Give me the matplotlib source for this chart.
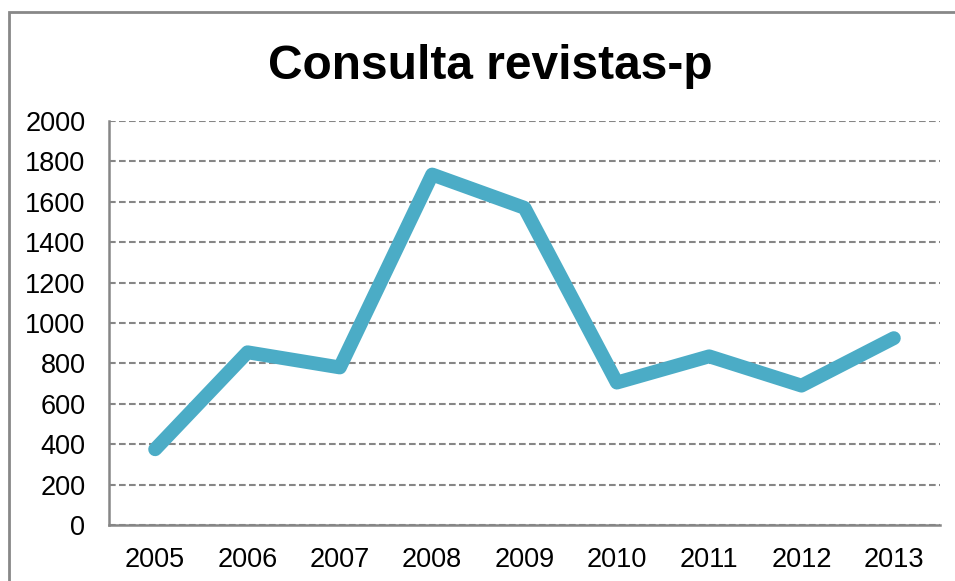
import matplotlib
matplotlib.use("Agg")
import matplotlib.pyplot as plt
from matplotlib.patches import Rectangle

years = ["2005", "2006", "2007", "2008", "2009", "2010", "2011", "2012", "2013"]
consultas = [375, 855, 780, 1735, 1570, 705, 835, 690, 925]
y_ticks = list(range(0, 2001, 200))

plt.rcParams["font.family"] = ["Liberation Sans", "DejaVu Sans"]

fig = plt.figure(figsize=(9.55, 5.81), dpi=100)
ax = fig.add_axes([109 / 955, 1 - 525 / 581, (940 - 109) / 955, (525 - 121) / 581])

x = list(range(len(years)))
ax.plot(x, consultas, color="#4BACC6", linewidth=10, solid_capstyle="round",
        solid_joinstyle="round", zorder=3)

ax.set_xlim(-0.5, len(years) - 0.5)
ax.set_ylim(0, 2000)
ax.set_xticks(x)
ax.set_xticklabels(years)
ax.set_yticks(y_ticks)
ax.set_yticklabels([str(v) for v in y_ticks])
ax.tick_params(axis="both", length=0, labelsize=19.5, colors="black")
ax.tick_params(axis="y", pad=17)
ax.tick_params(axis="x", pad=15.5)

ax.yaxis.grid(True, color="#868686", linestyle=(0, (3.2, 1.6)), linewidth=1.5)
ax.set_axisbelow(True)
for side in ["top", "right"]:
    ax.spines[side].set_visible(False)
for side in ["left", "bottom"]:
    ax.spines[side].set_color("#868686")
    ax.spines[side].set_linewidth(1.8)

fig.text(490 / 955, 1 - 79 / 581, "Consulta revistas-p", ha="center", va="baseline",
         fontsize=34.5, fontweight="bold")

# outer chart frame (only top and left visible in the crop)
fig.patches.append(Rectangle((9 / 955, -0.1), 1.2, 1 - 12 / 581 + 0.1,
                             transform=fig.transFigure, fill=False,
                             edgecolor="#888888", linewidth=2))

fig.savefig("out.png", dpi=100)
